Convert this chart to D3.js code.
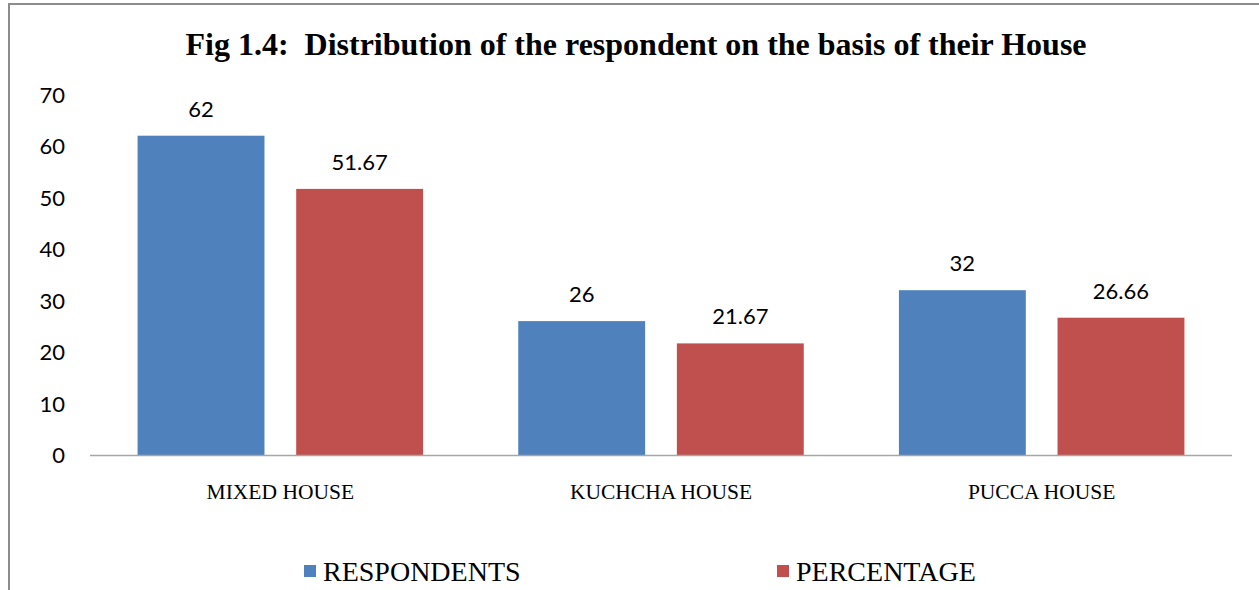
<!DOCTYPE html>
<html>
<head>
<meta charset="utf-8">
<script src="https://cdn.jsdelivr.net/npm/d3@7"></script>
<style>
  body { margin: 0; background: #fff; }
</style>
</head>
<body>
<div id="chart"></div>
<script>
const categories = ['MIXED HOUSE', 'KUCHCHA HOUSE', 'PUCCA HOUSE'];
const seriesNames = ['RESPONDENTS', 'PERCENTAGE'];
const respondents = [62, 26, 32];
const percentage = [51.67, 21.67, 26.66];
const valueLabels = [['62', '26', '32'], ['51.67', '21.67', '26.66']];
const yTicks = [0, 10, 20, 30, 40, 50, 60, 70];
const colors = ['#4f81bd', '#c0504d'];

const width = 1259, height = 590;
const margin = { left: 90, right: 27, top: 94.5, bottom: 135 };

const svg = d3.select('#chart').append('svg')
    .attr('width', width)
    .attr('height', height);

// outer frame (runs off the right and bottom)
svg.append('rect')
    .attr('x', 9).attr('y', 4)
    .attr('width', 1300).attr('height', 700)
    .style('fill', 'none')
    .style('stroke', '#8c8c8c')
    .style('stroke-width', 2);

// title
svg.append('text')
    .attr('x', 636).attr('y', 55)
    .attr('text-anchor', 'middle')
    .style('font-family', '"Liberation Serif", "Times New Roman", serif')
    .style('font-weight', 'bold')
    .style('font-size', '32px')
    .style('white-space', 'pre')
    .text('Fig 1.4:  Distribution of the respondent on the basis of their House');

const x0 = d3.scaleBand()
    .domain(categories)
    .range([margin.left, width - margin.right])
    .paddingInner(0.25)
    .paddingOuter(0.125);

const x1 = d3.scaleBand()
    .domain(seriesNames)
    .range([0, x0.bandwidth()])
    .paddingInner(0.2);

const y = d3.scaleLinear()
    .domain([0, 70])
    .range([height - margin.bottom, margin.top]);

// y tick labels
svg.selectAll('.ytick')
    .data(yTicks)
    .enter().append('text')
    .attr('class', 'ytick')
    .attr('x', 65)
    .attr('y', d => y(d) + 8)
    .attr('text-anchor', 'end')
    .style('font-family', 'Lato, "Open Sans", sans-serif')
    .style('font-size', '22px')
    .style('fill', '#000')
    .text(d => d);

const data = [respondents, percentage];

const groups = svg.selectAll('.grp')
    .data(seriesNames)
    .enter().append('g')
    .attr('class', 'grp');

groups.each(function(s, si) {
    const g = d3.select(this);
    g.selectAll('rect')
        .data(data[si])
        .enter().append('rect')
        .attr('x', (d, i) => x0(categories[i]) + x1(s))
        .attr('y', d => y(d))
        .attr('width', x1.bandwidth())
        .attr('height', d => y(0) - y(d))
        .style('fill', colors[si]);

    g.selectAll('text')
        .data(data[si])
        .enter().append('text')
        .attr('x', (d, i) => x0(categories[i]) + x1(s) + x1.bandwidth() / 2)
        .attr('y', d => y(d) - 19)
        .attr('text-anchor', 'middle')
        .style('font-family', 'Lato, "Open Sans", sans-serif')
        .style('font-size', '22px')
        .style('fill', '#000')
        .text((d, i) => valueLabels[si][i]);
});

// baseline
svg.append('line')
    .attr('x1', margin.left).attr('x2', width - margin.right)
    .attr('y1', y(0) + 0.5).attr('y2', y(0) + 0.5)
    .style('stroke', '#a6a6a6')
    .style('stroke-width', 1.5);

// category labels
svg.selectAll('.xlab')
    .data(categories)
    .enter().append('text')
    .attr('class', 'xlab')
    .attr('x', d => x0(d) + x0.bandwidth() / 2)
    .attr('y', 499)
    .attr('text-anchor', 'middle')
    .style('font-family', '"Liberation Serif", "Times New Roman", serif')
    .style('font-size', '21.5px')
    .style('fill', '#000')
    .text(d => d);

// legend
const legendX = [304, 777];
const legend = svg.selectAll('.leg')
    .data(seriesNames)
    .enter().append('g')
    .attr('class', 'leg')
    .attr('transform', (d, i) => `translate(${legendX[i]},0)`);

legend.append('rect')
    .attr('x', 0).attr('y', 565)
    .attr('width', 12).attr('height', 12)
    .style('fill', (d, i) => colors[i]);

legend.append('text')
    .attr('x', 19).attr('y', 581)
    .style('font-family', '"Liberation Serif", "Times New Roman", serif')
    .style('font-size', '28px')
    .style('fill', '#000')
    .text(d => d);
</script>
</body>
</html>
